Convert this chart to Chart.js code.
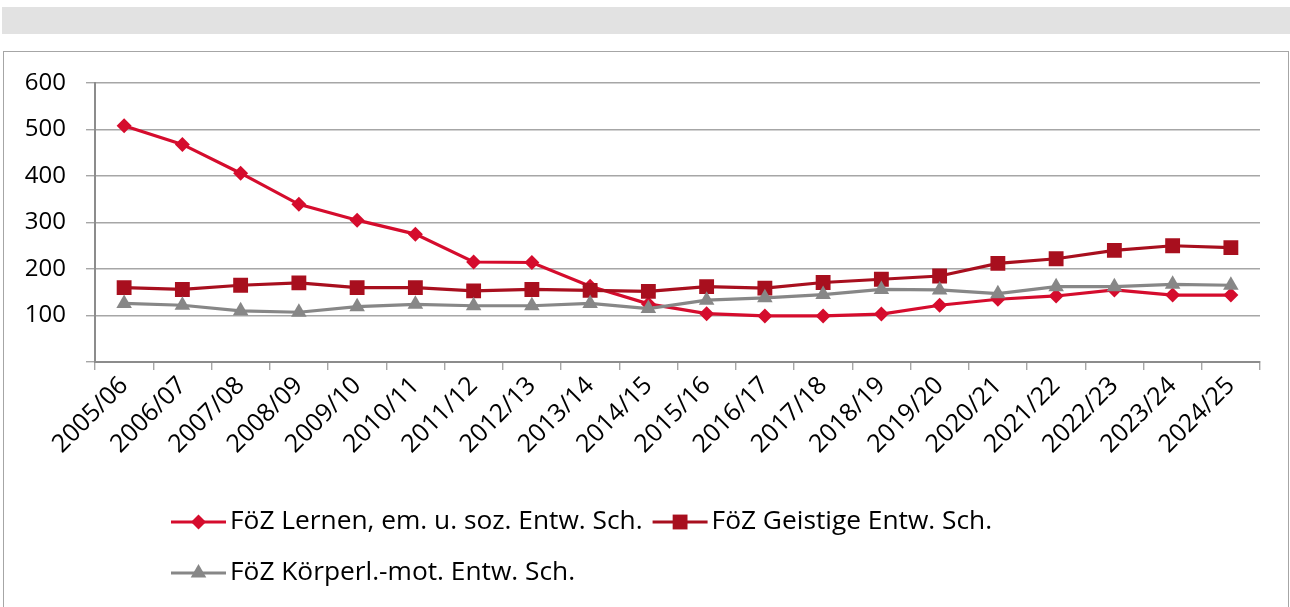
<!DOCTYPE html>
<html>
<head>
<meta charset="utf-8">
<script src="https://cdn.jsdelivr.net/npm/chart.js@4"></script>
<style>
  body { margin: 0; background: #fff; width: 1290px; height: 607px; overflow: hidden; position: relative; }
  .topbar { position: absolute; left: 2px; top: 7px; width: 1288px; height: 27px; background: #e2e2e2; }
  .frame { position: absolute; left: 3px; top: 51px; width: 1284px; height: 600px; border: 1px solid #a6a6a6; }
  #lineChart { position: absolute; left: 0; top: 0; }
</style>
</head>
<body>
<div class="topbar"></div>
<div class="frame"></div>
<canvas id="lineChart" width="1290" height="607"></canvas>
<script>
var years = ['2005/06', '2006/07', '2007/08', '2008/09', '2009/10', '2010/11', '2011/12', '2012/13', '2013/14', '2014/15',
  '2015/16', '2016/17', '2017/18', '2018/19', '2019/20', '2020/21', '2021/22', '2022/23', '2023/24', '2024/25'];
var seriesNames = ['FöZ Lernen, em. u. soz. Entw. Sch.', 'FöZ Geistige Entw. Sch.', 'FöZ Körperl.-mot. Entw. Sch.'];
var lernen = [508, 468, 406, 339, 305, 275, 215, 214, 163, 125, 104, 99, 99, 103, 122, 135, 142, 155, 144, 144];
var geistige = [160, 156, 165, 170, 160, 160, 153, 156, 154, 152, 162, 159, 171, 178, 185, 212, 222, 240, 250, 246];
var koerperl = [126, 122, 110, 107, 119, 124, 121, 121, 126, 115, 133, 138, 145, 156, 155, 147, 162, 162, 167, 165];
var yTicks = [0, 100, 200, 300, 400, 500, 600];

var fontFamily = '"Open Sans", "Noto Sans", sans-serif';
var gridColor = '#a6a6a6';

function drawMarker(ctx, style, x, y, r, color) {
  ctx.fillStyle = color;
  ctx.beginPath();
  if (style === 'rectRot') {
    ctx.moveTo(x - r, y); ctx.lineTo(x, y - r); ctx.lineTo(x + r, y); ctx.lineTo(x, y + r);
  } else if (style === 'rect') {
    var s = r * Math.SQRT1_2;
    ctx.rect(x - s, y - s, 2 * s, 2 * s);
  } else {
    ctx.moveTo(x, y - r);
    ctx.lineTo(x + r * Math.sin(2 * Math.PI / 3), y + r / 2);
    ctx.lineTo(x - r * Math.sin(2 * Math.PI / 3), y + r / 2);
  }
  ctx.closePath();
  ctx.fill();
}

// legend drawn like the Excel one: line + marker, left aligned, two rows
var legendRows = [[0, 1], [2]];
var legendPlugin = {
  id: 'excelLegend',
  afterDraw: function(chart) {
    var ctx = chart.ctx;
    ctx.save();
    ctx.font = '26.3px ' + fontFamily;
    ctx.textBaseline = 'middle';
    ctx.textAlign = 'left';
    legendRows.forEach(function(row, r) {
      var x = 171;
      var y = 522 + r * 51;
      row.forEach(function(i) {
        var ds = chart.data.datasets[i];
        ctx.strokeStyle = ds.borderColor;
        ctx.lineWidth = 3;
        ctx.beginPath();
        ctx.moveTo(x, y);
        ctx.lineTo(x + 55, y);
        ctx.stroke();
        drawMarker(ctx, ds.pointStyle, x + 27.5, y, ds.pointRadius, ds.borderColor);
        ctx.fillStyle = '#000';
        ctx.fillText(ds.label, x + 59, y);
        x += 59 + ctx.measureText(ds.label).width + 10;
      });
    });
    ctx.restore();
  }
};

var ctx = document.getElementById('lineChart').getContext('2d');
var myLineChart = new Chart(ctx, {
  type: 'line',
  data: {
    labels: years,
    datasets: [{
      label: seriesNames[0],
      data: lernen,
      borderColor: '#d50c2d',
      backgroundColor: '#d50c2d',
      pointStyle: 'rectRot',
      pointRadius: 7.5,
      order: 3
    }, {
      label: seriesNames[1],
      data: geistige,
      borderColor: '#a80f1e',
      backgroundColor: '#a80f1e',
      pointStyle: 'rect',
      pointRadius: 10.5,
      order: 2
    }, {
      label: seriesNames[2],
      data: koerperl,
      borderColor: '#878787',
      backgroundColor: '#878787',
      pointStyle: 'triangle',
      pointRadius: 9,
      order: 1
    }]
  },
  options: {
    responsive: false,
    animation: false,
    elements: {
      line: { borderWidth: 3.2, tension: 0 },
      point: { borderWidth: 0, hoverRadius: 9 }
    },
    layout: {
      padding: { top: 83, right: 30, bottom: 115, left: 0 }
    },
    plugins: {
      legend: { display: false },
      tooltip: { enabled: false }
    },
    scales: {
      x: {
        offset: true,
        grid: { display: true, drawOnChartArea: false, offset: true, color: gridColor, lineWidth: 1.4, tickLength: 8 },
        border: { color: '#8c8c8c', width: 2 },
        ticks: { minRotation: 45, maxRotation: 45, autoSkip: false, padding: 1, color: '#000', font: { family: fontFamily, size: 25 } },
        afterFit: function(scale) { scale.height = 130; }
      },
      y: {
        min: 0,
        max: 600,
        afterBuildTicks: function(scale) { scale.ticks = yTicks.map(function(v) { return { value: v }; }); },
        grid: { color: gridColor, lineWidth: 1.4, tickLength: 9 },
        border: { color: '#8c8c8c', width: 2 },
        ticks: {
          padding: 20,
          color: '#000',
          font: { family: fontFamily, size: 24 },
          callback: function(v) { return v === 0 ? '' : v; }
        },
        afterFit: function(scale) { scale.width = 95; }
      }
    }
  },
  plugins: [legendPlugin]
});
</script>
</body>
</html>
